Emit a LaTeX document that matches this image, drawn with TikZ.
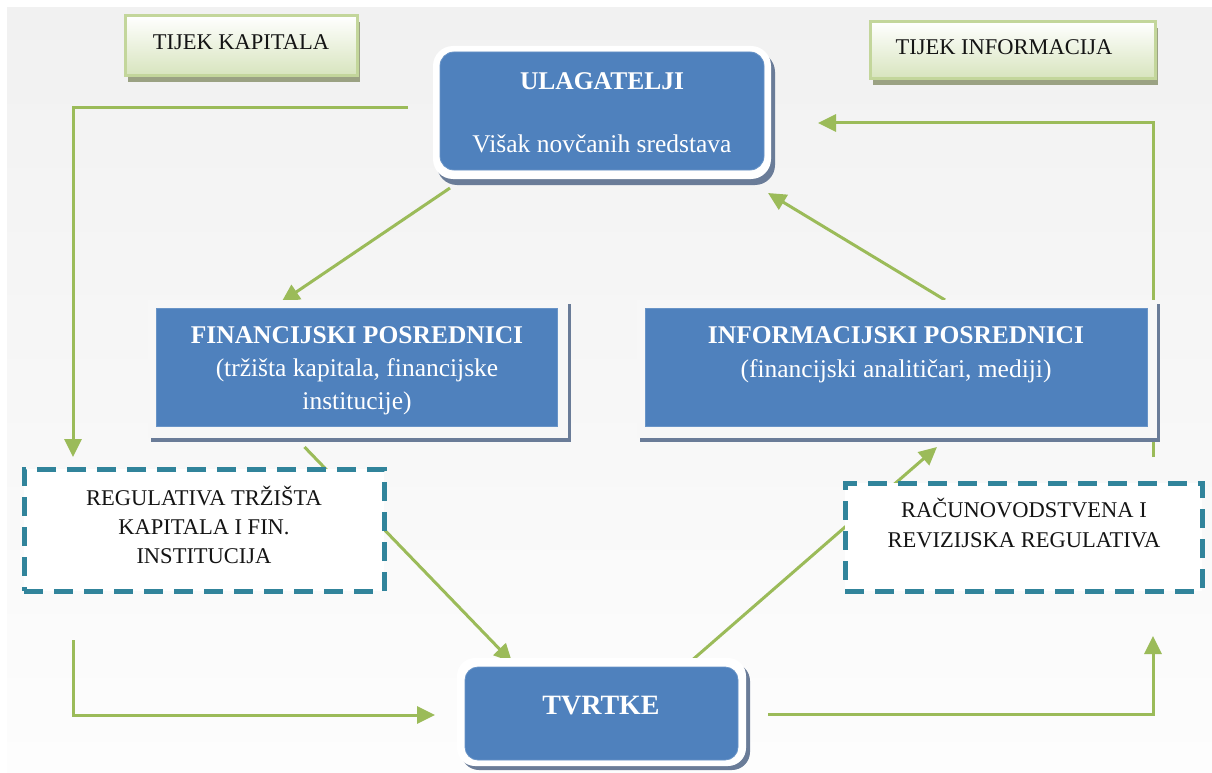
\documentclass[tikz,border=0pt]{standalone}
\usepackage{fontspec}
\setmainfont{Liberation Serif}
\usetikzlibrary{arrows.meta,calc}
\definecolor{boxblue}{HTML}{4F81BD}
\definecolor{flowgreen}{HTML}{9BBB59}
\definecolor{dashteal}{HTML}{31849B}
\definecolor{legborder}{HTML}{C3D69B}
\definecolor{legbottom}{HTML}{D7E4BD}
\definecolor{legshadow}{HTML}{9BA283}
\definecolor{blueshadow}{HTML}{6A7C98}
\definecolor{bgtop}{HTML}{F1F1F1}
\definecolor{bgbot}{HTML}{FDFDFD}
\definecolor{textdark}{HTML}{141414}
\pgfdeclarelayer{bglayer}
\pgfdeclarelayer{flowlayer}
\pgfsetlayers{bglayer,flowlayer,main}
\begin{document}
\begin{tikzpicture}[x=1pt,y=-1pt,
  flowline/.style={draw=flowgreen,line width=3pt},
  flow/.style={flowline,-{Triangle[length=18pt,width=17pt]}},
  bluebox/.style={fill=boxblue,draw=boxblue!85!white,line width=0.8pt,inner sep=0pt,outer sep=0pt},
  dashbox/.style={fill=white,draw=dashteal,line width=5pt,dash pattern=on 19pt off 11pt,inner sep=0pt,outer sep=0pt},
  legbox/.style={top color=white,bottom color=legbottom,draw=legborder,line width=3pt,inner sep=0pt,outer sep=0pt},
  bigbold/.style={font=\fontsize{25.5}{30}\selectfont\bfseries,text=white,anchor=base,inner sep=0pt},
  bigreg/.style={font=\fontsize{25.5}{30}\selectfont,text=white,anchor=base,inner sep=0pt},
  smalltxt/.style={font=\fontsize{22.5}{27}\selectfont,text=textdark,anchor=base,inner sep=0pt},
  hugebold/.style={font=\fontsize{28}{32}\selectfont\bfseries,text=white,anchor=base,inner sep=0pt},
  frame/.style={fill=#1},
  shadowfill/.style={fill=blueshadow}
]
\useasboundingbox (0,0) rectangle (1212,773);
\begin{pgfonlayer}{bglayer}
\fill[white] (0,0) rectangle (1212,773);
\shade[top color=bgtop,bottom color=bgbot] (7,8) rectangle (1212,773);
\end{pgfonlayer}

% legend boxes
\fill[legshadow] (128,22) rectangle (360,82);
\node[legbox,minimum width=232pt,minimum height=60pt] (leg1) at (241,46) {};
\node[smalltxt] (leg1t) at (241,50) {TIJEK KAPITALA};
\fill[legshadow] (873,28) rectangle (1158,85);
\node[legbox,minimum width=285pt,minimum height=57pt] (leg2) at (1012.5,50.5) {};
\node[smalltxt] (leg2t) at (1004,55) {TIJEK INFORMACIJA};

% ULAGATELJI
\fill[shadowfill,rounded corners=20pt] (437,52) rectangle (775,185);
\fill[frame=white,rounded corners=20pt] (433,46) rectangle (771,179);
\node[bluebox,rounded corners=14pt,minimum width=324pt,minimum height=118pt] (ulag) at (602,111) {};
\node[bigbold] (ulag1) at (602,90) {ULAGATELJI};
\node[bigreg] (ulag2) at (602,152) {Višak novčanih sredstava};

% FINANCIJSKI
\fill[shadowfill] (151,304) rectangle (571,442);
\fill[frame=black!3] (148,300) rectangle (568,438);
\node[bluebox,minimum width=401pt,minimum height=118pt] (fin) at (357,367) {};
\node[bigbold] (fin1) at (357,343) {FINANCIJSKI POSREDNICI};
\node[bigreg] (fin2) at (357,376) {(tržišta kapitala, financijske};
\node[bigreg] (fin3) at (357,409) {institucije)};

% INFORMACIJSKI
\fill[shadowfill] (640,304) rectangle (1160,442);
\fill[frame=black!3] (637,300) rectangle (1157,438);
\node[bluebox,minimum width=502pt,minimum height=118pt] (info) at (896,367) {};
\node[bigbold] (info1) at (896,343) {INFORMACIJSKI POSREDNICI};
\node[bigreg] (info2) at (896,377) {(financijski analitičari, mediji)};

% TVRTKE
\fill[shadowfill,rounded corners=18pt] (461,663) rectangle (750,770);
\fill[frame=white,rounded corners=18pt] (457,658) rectangle (746,766);
\node[bluebox,rounded corners=13pt,minimum width=273pt,minimum height=93pt] (tvrtke) at (601.5,713.5) {};
\node[hugebold] (tvrtket) at (601,714) {TVRTKE};

% regulativa boxes
\node[dashbox,minimum width=360pt,minimum height=122pt] (reg) at (204,530) {};
\node[smalltxt] (reg1) at (204,505) {REGULATIVA TRŽIŠTA};
\node[smalltxt] (reg2) at (204,534) {KAPITALA I FIN.};
\node[smalltxt] (reg3) at (204,563) {INSTITUCIJA};
\node[dashbox,minimum width=357pt,minimum height=108pt] (rac) at (1023.5,537) {};
\node[smalltxt] (rac1) at (1024,517) {RAČUNOVODSTVENA I};
\node[smalltxt] (rac2) at (1024,547) {REVIZIJSKA REGULATIVA};

% connectors
\begin{pgfonlayer}{flowlayer}
\draw[flow] ($(ulag.south west)+(10,18)$) -- ($(fin.north west)+(125,-6)$);
\draw[flow] ($(info.north west)+(300,-8)$) -- ($(ulag.south east)+(4,23)$);
\draw[flow] ($(fin.south west)+(148,21)$) -- ($(tvrtke.north west)+(47,-5)$);
\draw[flow] ($(tvrtke.north west)+(225,-5)$) -- ($(info.south west)+(292,21)$);
\draw[flow] ($(ulag.west)+(-32,-3)$) -- (73,108) -- ($(reg.north west)+(49,-12)$);
\draw[flow] ($(reg.south west)+(49,49)$) -- (73,715) -- ($(tvrtke.west)+(-30,1.5)$);
\draw[flow] ($(tvrtke.east)+(30,0.5)$) -- (1153,714) -- ($(rac.south east)+(-49,45)$);
\draw[flow] ($(rac.north east)+(-49,-26)$) -- (1153,123) -- ($(ulag.east)+(54,12)$);
\end{pgfonlayer}
\end{tikzpicture}
\end{document}
